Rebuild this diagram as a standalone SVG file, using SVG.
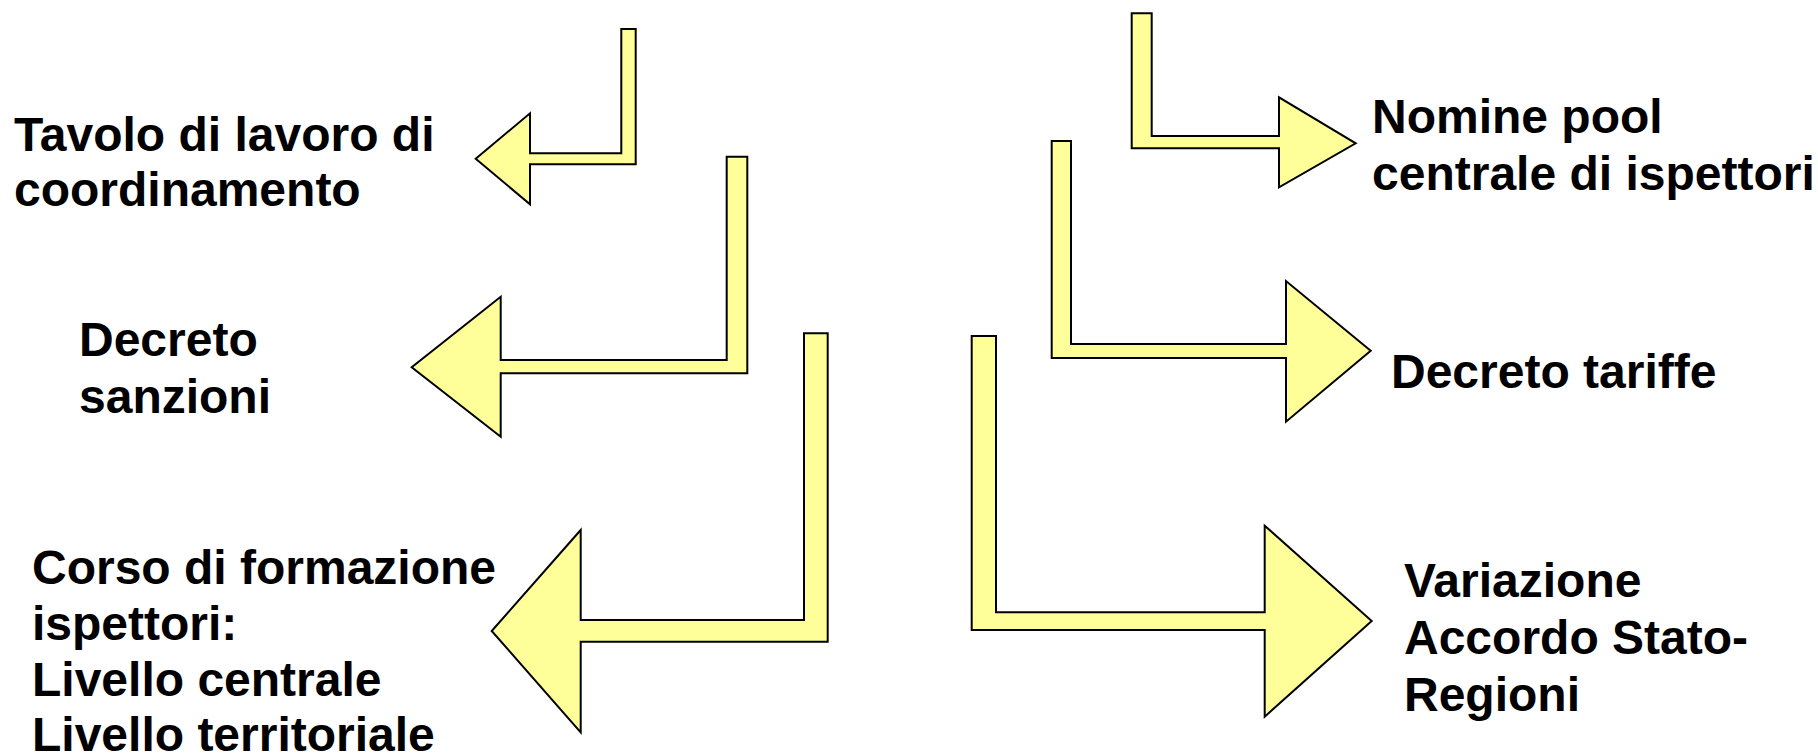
<svg xmlns="http://www.w3.org/2000/svg" width="1818" height="755" viewBox="0 0 1818 755">
<style>
.arrow{fill:#FFFF99;stroke:#000;stroke-width:2;stroke-linejoin:miter}
.lbl{font-family:"Liberation Sans",Arial,sans-serif;font-weight:bold;font-size:48px;fill:#000}
</style>
<rect width="1818" height="755" fill="#fff"/>
<g id="connectors">
<polygon class="arrow" points="621.3,29 635.7,29 635.7,164.3 530,164.3 530,204.3 475.7,158.7 530,113.3 530,153.3 621.3,153.3"/>
<polygon class="arrow" points="726.7,156.7 747.3,156.7 747.3,373.3 500.7,373.3 500.7,436.7 411.7,367.3 500.7,296.7 500.7,360 726.7,360"/>
<polygon class="arrow" points="804,333.3 827.7,333.3 827.7,641.7 580.7,641.7 580.7,732.3 491.7,631 580.7,530 580.7,620 804,620"/>
<polygon class="arrow" points="1131.7,13.3 1151.7,13.3 1151.7,136 1279,136 1279,97.3 1355.7,143.3 1279,187.3 1279,148.3 1131.7,148.3"/>
<polygon class="arrow" points="1051.7,141 1071,141 1071,344 1286,344 1286,281 1370.7,350.7 1286,421.7 1286,358 1051.7,358"/>
<polygon class="arrow" points="971.7,336 996,336 996,612.3 1264.7,612.3 1264.7,525.7 1371.7,621 1264.7,716.7 1264.7,630 971.7,630"/>
</g>
<g id="node-tavolo">
<text class="lbl" x="14" y="151">Tavolo di lavoro di</text>
<text class="lbl" x="14" y="206">coordinamento</text>
</g>
<g id="node-decreto-sanzioni">
<text class="lbl" x="79" y="356">Decreto</text>
<text class="lbl" x="79" y="413">sanzioni</text>
</g>
<g id="node-corso">
<text class="lbl" x="32" y="584">Corso di formazione</text>
<text class="lbl" x="32" y="640">ispettori:</text>
<text class="lbl" x="32" y="696">Livello centrale</text>
<text class="lbl" x="32" y="751">Livello territoriale</text>
</g>
<g id="node-nomine">
<text class="lbl" x="1372" y="133">Nomine pool</text>
<text class="lbl" x="1372" y="190">centrale di ispettori</text>
</g>
<g id="node-decreto-tariffe">
<text class="lbl" x="1391" y="388">Decreto tariffe</text>
</g>
<g id="node-variazione">
<text class="lbl" x="1404" y="597">Variazione</text>
<text class="lbl" x="1404" y="654">Accordo Stato-</text>
<text class="lbl" x="1404" y="711">Regioni</text>
</g>
</svg>
